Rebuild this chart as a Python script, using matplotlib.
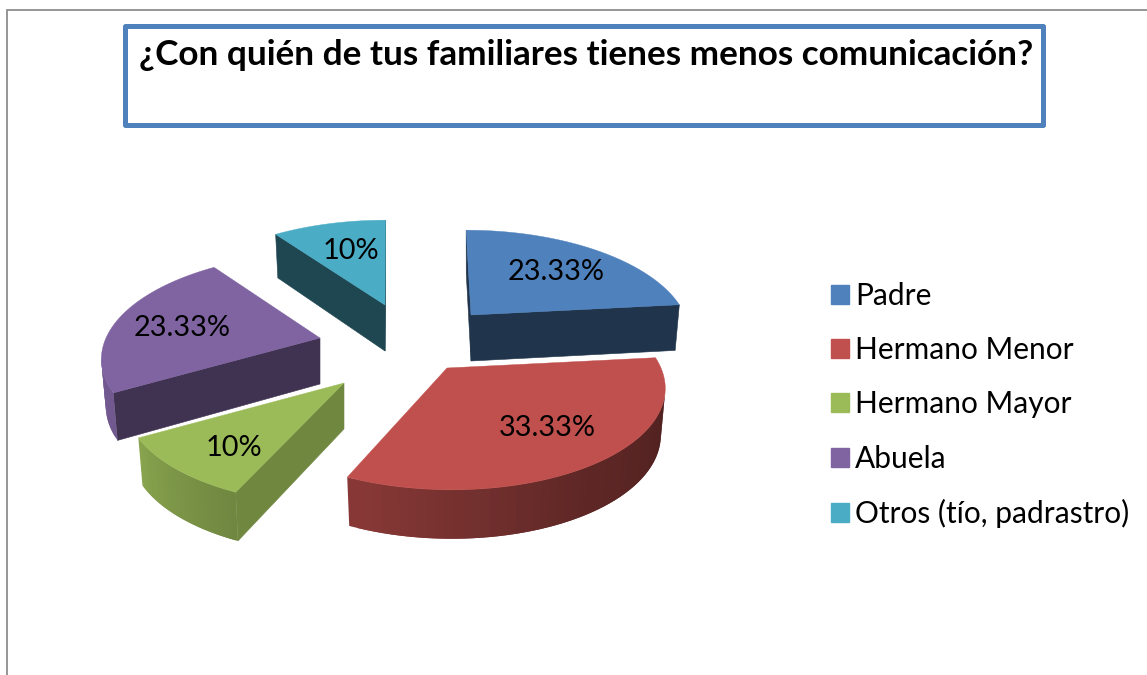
import numpy as np
import matplotlib
matplotlib.use("Agg")
import matplotlib.pyplot as plt
from matplotlib.patches import Polygon, Rectangle, Patch

# --- data
categories = ["Padre", "Hermano Menor", "Hermano Mayor", "Abuela", "Otros (tío, padrastro)"]
values = [23.33, 33.33, 10, 23.33, 10]
title = "¿Con quién de tus familiares tienes menos comunicación?"

# --- style and layout
colors = ["#4F81BD", "#C0504D", "#9BBB59", "#8064A2", "#4BACC6"]
apex_px = [(471, 315), (447, 368), (344, 383), (320, 338), (385, 305)]   # exploded slice origins
label_radius = [0.66, 0.68, 0.72, 0.68, 0.62]
label_nudge = [(1, 0), (3, -3), (6, 4), (0, 2), (3, -3)]
flat_shade = [0.40, 0.5, 0.72, 0.50, 0.41]
START = 90.0
RX, RY, PERSP = 214.0, 100.0, 0.179
VANISH_X, VANISH_K = 395.0, 0.42
DEPTH = 46.0

plt.rcParams["font.family"] = ["Lato", "DejaVu Sans"]
fig = plt.figure(figsize=(11.47, 6.75), dpi=100)
ax = fig.add_axes([0, 0, 1, 1])
ax.set_xlim(0, 1147)
ax.set_ylim(675, 0)
ax.axis("off")

# chart frame
ax.plot([6.5, 6.5, 1147], [675, 9.5, 9.5], color="#8E8E8E", lw=1.3, solid_joinstyle="miter")
# title box
ax.add_patch(Rectangle((124.5, 25.5), 918, 99, fill=False, ec="#4F81BD", lw=3.6, joinstyle="round"))
ax.text(586, 55, title, ha="center", va="center", fontsize=25.3, fontweight="bold", color="black")


def project(apex, deg, r=1.0):
    t = np.radians(deg)
    u, v = r * np.cos(t), r * np.sin(t)
    w = 1 + PERSP * v
    x = RX * u / w - (apex[0] - VANISH_X) * (1 - 1 / w) * VANISH_K
    return apex[0] + x, apex[1] - RY * v / w


def lower(apex, pt, deg, r=1.0):
    v = r * np.sin(np.radians(deg))
    return apex[0] + (pt[0] - apex[0]) * 0.98, pt[1] + DEPTH - 3 * v


def rim_shade(deg):
    d = ((deg + 180) % 360) - 180
    return np.interp(d, [-180, -150, -114, -60, 0], [0.88, 0.88, 0.72, 0.50, 0.39])


def scaled(c, f):
    return tuple(f * x for x in matplotlib.colors.to_rgb(c))


total = sum(values)
angle = START
for value, color, apex, shade, lab_r, nudge in zip(values, colors, apex_px, flat_shade, label_radius, label_nudge):
    sweep = 360 * value / total
    degs = np.linspace(angle, angle - sweep, 60)
    rim = [project(apex, d) for d in degs]
    # radial walls
    for a, a_deg, b, b_deg in [(apex, 0, rim[0], degs[0]), (rim[-1], degs[-1], apex, 0)]:
        if b[0] < a[0] - 0.01:
            ra = 0 if a is apex else 1
            rb = 0 if b is apex else 1
            quad = [a, b, lower(apex, b, b_deg, rb), lower(apex, a, a_deg, ra)]
            fc = scaled(color, shade)
            ax.add_patch(Polygon(quad, fc=fc, ec=fc, lw=0.4, zorder=2))
    # outer wall: adjacent quads overlap by one step so no seams show
    for i in range(len(rim) - 2):
        if rim[i + 1][0] < rim[i][0]:
            j = i + 2
            quad = [rim[i], rim[j], lower(apex, rim[j], degs[j]), lower(apex, rim[i], degs[i])]
            fc = scaled(color, rim_shade(degs[i]))
            ax.add_patch(Polygon(quad, fc=fc, ec="none", lw=0, zorder=3))
    # top face
    ax.add_patch(Polygon([apex] + rim, fc=color, ec=color, lw=0.3, zorder=4))
    mid = angle - sweep / 2
    lx, ly = project(apex, mid, lab_r)
    ax.text(lx + nudge[0], ly + 2 + nudge[1], f"{value:g}%", ha="center", va="center",
            fontsize=20.8, color="black", zorder=5)
    angle -= sweep

handles = [Patch(fc=c, ec=c) for c in colors]
leg = ax.legend(handles, categories, loc="center left", bbox_to_anchor=(819 / 1147, 1 - 405 / 675),
                frameon=False, fontsize=21.5, handlelength=0.6, handleheight=0.6,
                handletextpad=0.2, labelspacing=0.875, borderpad=0, borderaxespad=0.4)

fig.savefig("out.png", dpi=100)
